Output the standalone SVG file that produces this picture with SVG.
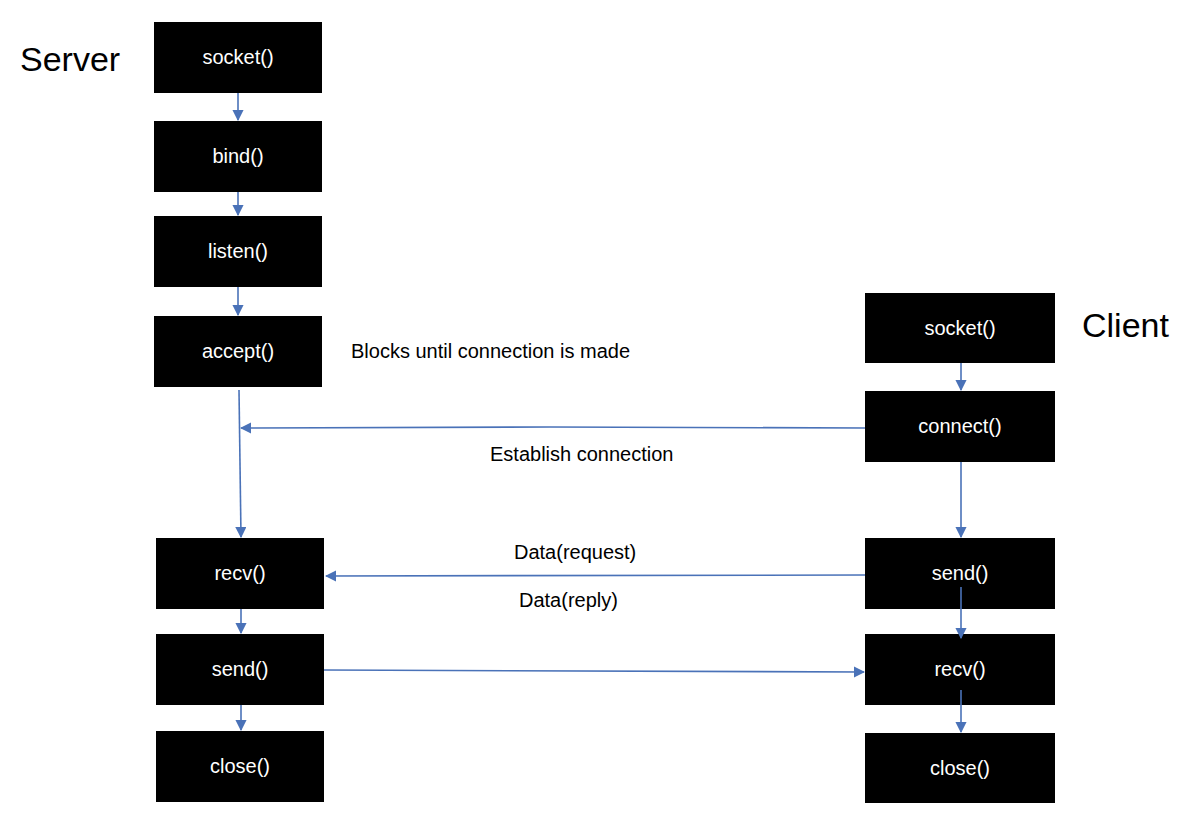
<svg xmlns="http://www.w3.org/2000/svg" width="1198" height="828" viewBox="0 0 1198 828">
<defs>
<marker id="a" viewBox="0 0 10 10" refX="9" refY="5" markerWidth="7" markerHeight="7" orient="auto"><path d="M0,0L10,5L0,10z" fill="#4a72b8"/></marker>
<style>
.b{fill:#000}
.t{fill:#fff;font-family:"Liberation Sans",Arial,sans-serif;font-size:20px;text-anchor:middle}
.l{fill:#000;font-family:"Liberation Sans",Arial,sans-serif;font-size:20px}
.h{fill:#000;font-family:"Liberation Sans",Arial,sans-serif;font-size:34px}
.c{stroke:#4a72b8;stroke-width:1.6;fill:none;marker-end:url(#a)}
</style>
</defs>
<rect width="1198" height="828" fill="#fff"/>
<text class="h" x="20" y="71">Server</text>
<text class="h" x="1082" y="337">Client</text>
<g id="s_socket"><rect class="b" x="154" y="22" width="168" height="71"/><text class="t" x="238" y="64">socket()</text></g>
<g id="s_bind"><rect class="b" x="154" y="121" width="168" height="71"/><text class="t" x="238" y="163">bind()</text></g>
<g id="s_listen"><rect class="b" x="154" y="216" width="168" height="71"/><text class="t" x="238" y="258">listen()</text></g>
<g id="s_accept"><rect class="b" x="154" y="316" width="168" height="71"/><text class="t" x="238" y="358">accept()</text></g>
<g id="s_recv"><rect class="b" x="156" y="538" width="168" height="71"/><text class="t" x="240" y="580">recv()</text></g>
<g id="s_send"><rect class="b" x="156" y="634" width="168" height="71"/><text class="t" x="240" y="676">send()</text></g>
<g id="s_close"><rect class="b" x="156" y="731" width="168" height="71"/><text class="t" x="240" y="773">close()</text></g>
<g id="c_socket"><rect class="b" x="865" y="293" width="190" height="70"/><text class="t" x="960" y="335">socket()</text></g>
<g id="c_connect"><rect class="b" x="865" y="391" width="190" height="71"/><text class="t" x="960" y="433">connect()</text></g>
<g id="c_send"><rect class="b" x="865" y="538" width="190" height="71"/><text class="t" x="960" y="580">send()</text></g>
<g id="c_recv"><rect class="b" x="865" y="634" width="190" height="71"/><text class="t" x="960" y="676">recv()</text></g>
<g id="c_close"><rect class="b" x="865" y="733" width="190" height="70"/><text class="t" x="960" y="775">close()</text></g>
<text class="l" x="351" y="358">Blocks until connection is made</text>
<text class="l" x="490" y="461">Establish connection</text>
<text class="l" x="514" y="559">Data(request)</text>
<text class="l" x="519" y="607">Data(reply)</text>
<g id="connectors">
<path class="c" d="M238,93V120"/>
<path class="c" d="M238,192V215"/>
<path class="c" d="M238,287V315"/>
<path class="c" d="M239,390L241,537"/>
<path class="c" d="M241,609V633"/>
<path class="c" d="M241,705V730"/>
<path class="c" d="M961,363V390"/>
<path class="c" d="M961,462V537"/>
<path class="c" d="M961,587V638"/>
<path class="c" d="M961,690V732"/>
<path class="c" d="M865,428L550,427L241,428"/>
<path class="c" d="M865,575L326,576"/>
<path class="c" d="M324,670L864,672"/>
</g>
</svg>
